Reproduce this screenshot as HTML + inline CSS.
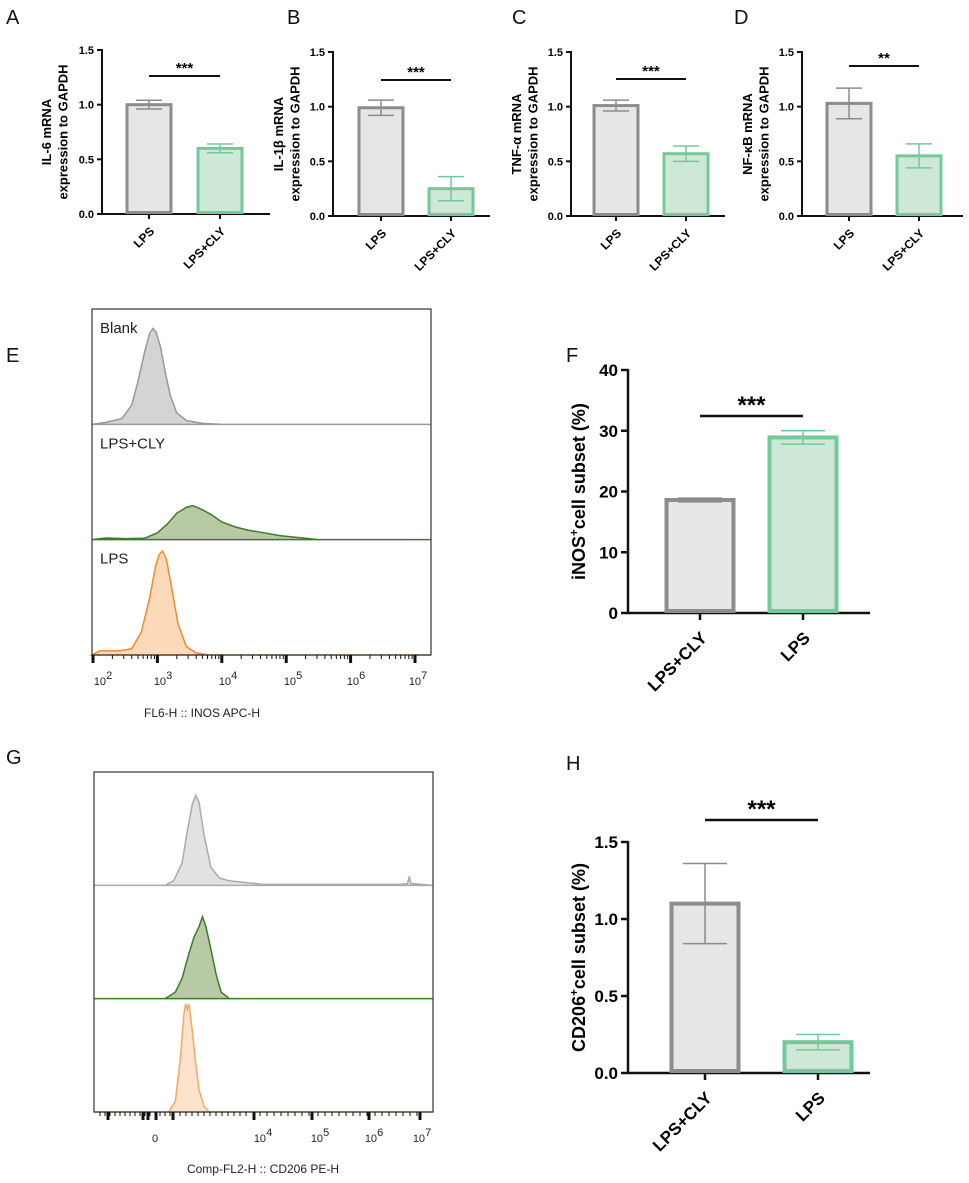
<!DOCTYPE html>
<html><head><meta charset="utf-8"><style>
body{margin:0;background:#fff}
svg{display:block;font-family:"Liberation Sans",Arial,sans-serif}
</style></head><body>
<svg id="fig" width="969" height="1183" viewBox="0 0 969 1183" xmlns="http://www.w3.org/2000/svg">
<g font-size="20" fill="#111">
<text x="6" y="24">A</text>
<text x="287" y="24">B</text>
<text x="512" y="24">C</text>
<text x="734" y="24">D</text>
<text x="6" y="362">E</text>
<text x="566" y="362">F</text>
<text x="6" y="764">G</text>
<text x="566" y="770">H</text>
</g>
</svg>
<script>
// ---- bar chart data ----
const groupsTop = ["LPS", "LPS+CLY"];
const groupsBottom = ["LPS+CLY", "LPS"];
const aMeans = [1.00, 0.60], aErr = [0.04, 0.04];
const bMeans = [0.99, 0.25], bErr = [0.07, 0.11];
const cMeans = [1.01, 0.57], cErr = [0.05, 0.07];
const dMeans = [1.03, 0.55], dErr = [0.14, 0.11];
const fMeans = [18.6, 28.9], fErr = [0.3, 1.1];
const hMeans = [1.10, 0.20], hErr = [0.26, 0.05];
const smallTicks = ["0.0", "0.5", "1.0", "1.5"];
const fTicks = ["0", "10", "20", "30", "40"];
const hTicks = ["0.0", "0.5", "1.0", "1.5"];
// ---- histogram data (log10 value, relative count) ----
const eBlankX = [1.7, 2.2, 2.45, 2.6, 2.7, 2.8, 2.88, 2.93, 2.98, 3.05, 3.12, 3.2, 3.3, 3.45, 3.7, 4.0, 7.2];
const eBlankY = [0, 2, 6, 20, 45, 75, 95, 100, 96, 80, 55, 30, 12, 4, 1, 0, 0];
const eClyX = [1.7, 2.2, 2.5, 2.8, 3.0, 3.15, 3.3, 3.45, 3.55, 3.7, 3.85, 4.0, 4.2, 4.4, 4.6, 4.9, 5.2, 5.5, 7.2];
const eClyY = [0, 5, 3, 4, 20, 45, 78, 95, 100, 88, 72, 52, 38, 28, 22, 12, 6, 0, 0];
const eLpsX = [1.7, 2.1, 2.4, 2.6, 2.75, 2.88, 2.97, 3.03, 3.08, 3.14, 3.22, 3.32, 3.45, 3.6, 3.8, 7.2];
const eLpsY = [0, 4, 4, 6, 22, 55, 85, 97, 100, 92, 65, 30, 8, 2, 0, 0];
// G: channel position (0 = left edge, 1 = right edge)
const gBlankX = [0, 0.21, 0.235, 0.26, 0.275, 0.29, 0.3, 0.31, 0.325, 0.345, 0.37, 0.4, 0.45, 0.5, 0.9, 0.925, 0.93, 0.935, 1];
const gBlankY = [0, 0, 5, 25, 60, 90, 100, 92, 55, 20, 8, 5, 3, 1, 1, 2, 10, 2, 0];
const gClyX = [0, 0.21, 0.24, 0.26, 0.28, 0.295, 0.31, 0.32, 0.33, 0.345, 0.36, 0.375, 0.4, 1];
const gClyY = [0, 0, 8, 25, 55, 75, 88, 100, 88, 60, 30, 8, 0, 0];
const gLpsX = [0, 0.22, 0.24, 0.255, 0.265, 0.27, 0.275, 0.28, 0.29, 0.3, 0.31, 0.325, 0.34, 1];
const gLpsY = [0, 0, 10, 50, 90, 100, 95, 100, 75, 45, 20, 5, 0, 0];

const NS = "http://www.w3.org/2000/svg";
const svg = document.getElementById("fig");
function el(tag, attrs, parent, txt) {
  const e = document.createElementNS(NS, tag);
  for (const k in attrs) e.setAttribute(k, attrs[k]);
  if (txt !== undefined) e.textContent = txt;
  (parent || svg).appendChild(e);
  return e;
}
const GRAY = ["#8c8c8c", "#e6e6e6"], GREEN = ["#74c99a", "#cde8d7"];

function barChart(o) {
  const g = el("g", {});
  
  
  const y = v => o.y0 - (v / o.ymax) * (o.y0 - o.y1);
  const ax = el("line", {x1: o.ax, y1: o.y1 - 1, x2: o.ax, y2: o.y0 + 1, stroke: "#111", "stroke-width": o.aw}, g);
  
  
  const xa = el("line", {x1: o.ax - o.aw / 2, y1: o.y0, x2: o.axEnd, y2: o.y0, stroke: "#111", "stroke-width": o.aw}, g);
  
  
  o.ticks.forEach((t, i) => {
    const v = i * o.ymax / (o.ticks.length - 1);
    el("line", {x1: o.ax - o.tl, y1: y(v), x2: o.ax, y2: y(v), stroke: "#111", "stroke-width": o.aw}, g);
    const tt = el("text", {x: o.ax - o.tl - 3, y: y(v) + o.fs * 0.36, "text-anchor": "end", "font-size": o.fs, "font-weight": "bold"}, g, t);
    
    
  });
  o.means.forEach((m, i) => {
    const c = o.colors[i], cx = o.cx[i];
    const r = el("rect", {x: cx - o.bw / 2, y: y(m), width: o.bw, height: o.y0 - y(m) - o.sw / 2, fill: c[1], stroke: c[0], "stroke-width": o.sw}, g);
    
    
    const e1 = y(m + o.err[i]), e0 = y(m - o.err[i]);
    const eb = el("path", {d: `M${cx},${e0}V${e1}M${cx - o.cap},${e1}H${cx + o.cap}M${cx - o.cap},${e0}H${cx + o.cap}`, stroke: c[0], "stroke-width": o.ew, fill: "none"}, g);
    
    
    el("line", {x1: cx, y1: o.y0, x2: cx, y2: o.y0 + o.tl, stroke: "#111", "stroke-width": o.aw}, g);
    const lx = cx + o.lo, ly = o.y0 + o.tl + o.fs + 2;
    const lt = el("text", {x: lx, y: ly, "text-anchor": "end", "font-size": o.lfs, "font-weight": "bold", transform: `rotate(-45 ${lx} ${ly})`}, g, o.groups[i]);
    
    
  });
  const sl = el("line", {x1: o.cx[0], y1: o.sigY, x2: o.cx[1], y2: o.sigY, stroke: "#111", "stroke-width": o.aw}, g);
  
  
  const st = el("text", {x: (o.cx[0] + o.cx[1]) / 2, y: o.sigY - 3, "text-anchor": "middle", "font-size": o.sfs, "font-weight": "bold"}, g, o.sig);
  
  
  const ty = (o.y0 + o.y1) / 2;
  o.title.forEach((ln, k) => {
    const tx = o.titleX + k * o.tfs * 1.25;
    const tg = el("text", {x: tx, y: ty, "text-anchor": "middle", "font-size": o.tfs, "font-weight": "bold", transform: `rotate(-90 ${tx} ${ty})`}, g);
    
    
    if (typeof ln === "object") {
      el("tspan", {}, tg, ln.a);
      el("tspan", {dy: -o.tfs * 0.4, "font-size": o.tfs * 0.65}, tg, "+");
      el("tspan", {dy: o.tfs * 0.4}, tg, ln.b);
    } else tg.textContent = ln;
  });
}
const small = {ymax: 1.5, ticks: smallTicks, aw: 2, tl: 5, fs: 11, lfs: 12, sfs: 15, tfs: 13, bw: 44, sw: 3, ew: 1.5, cap: 13, lo: 6, colors: [GRAY, GREEN], groups: groupsTop};
barChart(Object.assign({}, small, {name: "chart-il6", ax: 102, axEnd: 270, y0: 214, y1: 50, cx: [149, 220], means: aMeans, err: aErr, sigY: 76, sig: "***", titleX: 51, title: ["IL-6 mRNA", "expression to GAPDH"]}));
barChart(Object.assign({}, small, {name: "chart-il1b", ax: 333, axEnd: 490, y0: 216, y1: 52, cx: [381, 451], means: bMeans, err: bErr, sigY: 80, sig: "***", titleX: 283, title: ["IL-1β mRNA", "expression to GAPDH"]}));
barChart(Object.assign({}, small, {name: "chart-tnfa", ax: 571, axEnd: 725, y0: 216, y1: 52, cx: [616, 686], means: cMeans, err: cErr, sigY: 79, sig: "***", titleX: 521, title: ["TNF-α mRNA", "expression to GAPDH"]}));
barChart(Object.assign({}, small, {name: "chart-nfkb", ax: 802, axEnd: 963, y0: 216, y1: 52, cx: [849, 919], means: dMeans, err: dErr, sigY: 66, sig: "**", titleX: 752, title: ["NF-κB mRNA", "expression to GAPDH"]}));
const big = {aw: 2.5, tl: 7, fs: 17, lfs: 17, sfs: 24, tfs: 18, bw: 67, sw: 4, ew: 1.5, cap: 22, lo: 8, colors: [GRAY, GREEN], groups: groupsBottom};
barChart(Object.assign({}, big, {name: "chart-inos", ymax: 40, ticks: fTicks, ax: 628, axEnd: 870, y0: 613, y1: 370, cx: [700, 803], means: fMeans, err: fErr, sigY: 416, sig: "***", titleX: 585, title: [{a: "iNOS", b: "cell  subset (%)"}]}));
barChart(Object.assign({}, big, {name: "chart-cd206", ymax: 1.5, ticks: hTicks, ax: 628, axEnd: 870, y0: 1073, y1: 842, cx: [705, 818], means: hMeans, err: hErr, sigY: 820, sig: "***", titleX: 585, title: [{a: "CD206", b: "cell  subset (%)"}]}));

// ---- flow histograms ----
function histPanel(o) {
  const g = el("g", {});
  
  
  const sec = (o.y1 - o.y0) / 3;
  o.series.forEach((s, i) => {
    const base = o.y0 + sec * (i + 1);
    let d = `M${o.x0},${base}`;
    s.xs.forEach((v, k) => { d += `L${Math.min(o.x1, Math.max(o.x0, o.sx(v)))},${base - s.ys[k] / 100 * s.h}`; });
    d += `L${o.x1},${base}Z`;
    const p = el("path", {d: d, fill: s.fill, stroke: s.stroke, "stroke-width": 1.5}, g);
    
    
    if (s.label) {
      const t = el("text", {x: o.x0 + 8, y: o.y0 + sec * i + 24, "font-size": 15, fill: "#222"}, g, s.label);
      
      
    }
  });
  const fr = el("rect", {x: o.x0, y: o.y0, width: o.x1 - o.x0, height: o.y1 - o.y0, fill: "none", stroke: "#333", "stroke-width": 1.2}, g);
  
  
  o.majors.forEach(px => el("rect", {x: px - 1.5, y: o.y1, width: 3, height: 8, fill: "#111"}, g));
  o.minors.forEach(px => el("line", {x1: px, y1: o.y1, x2: px, y2: o.y1 + 4, stroke: "#111", "stroke-width": 1}, g));
  o.labels.forEach(l => {
    const t = el("text", {x: l.x, y: o.y1 + 30, "font-size": 11, "text-anchor": "middle", fill: "#222"}, g);
    
    
    if (l.e) { el("tspan", {}, t, "10"); el("tspan", {dy: -6, "font-size": 11}, t, l.e); } else t.textContent = l.t;
  });
  const xt = el("text", {x: o.titleX, y: o.titleY, "font-size": 12, "text-anchor": "middle", fill: "#222"}, g, o.title);
  
  
}
const eScale = v => 93 + (v - 2) * 64.4;
const eMin = [];
for (let dcd = 1; dcd <= 6; dcd++) for (let m = 2; m <= 9; m++) { const px = eScale(dcd + Math.log10(m)); if (px > 92 && px < 430) eMin.push(px); }
histPanel({name: "flow-inos", x0: 92, x1: 431, y0: 309, y1: 655, sx: eScale,
  series: [
    {key: "blank", label: "Blank", xs: eBlankX, ys: eBlankY, h: 96, fill: "#d4d4d4", stroke: "#999"},
    {key: "lps-cly", label: "LPS+CLY", xs: eClyX, ys: eClyY, h: 34, fill: "#b8c9a6", stroke: "#3f7a2a"},
    {key: "lps", label: "LPS", xs: eLpsX, ys: eLpsY, h: 104, fill: "#fcd9b8", stroke: "#f08a2c"}],
  majors: [2, 3, 4, 5, 6, 7].map(eScale), minors: eMin,
  labels: [{x: 103, e: "2"}, {x: 163, e: "3"}, {x: 228, e: "4"}, {x: 293, e: "5"}, {x: 356, e: "6"}, {x: 418, e: "7"}],
  title: "FL6-H :: INOS APC-H", titleX: 202, titleY: 717});
const gScale = v => 94 + v * 339;
const gMaj = [108, 143, 148, 156, 173, 254, 312, 369, 420];
const gMin = [];
[[100, 175, 5], [180, 250, 6], [260, 310, 7], [318, 368, 7], [375, 418, 7]].forEach(r => { for (let p = r[0]; p < r[1]; p += r[2]) gMin.push(p); });
histPanel({name: "flow-cd206", x0: 94, x1: 433, y0: 772, y1: 1112, sx: gScale,
  series: [
    {key: "blank", xs: gBlankX, ys: gBlankY, h: 90, fill: "#e2e2e2", stroke: "#aaa"},
    {key: "lps-cly", xs: gClyX, ys: gClyY, h: 82, fill: "#b8c9a6", stroke: "#3f7a2a"},
    {key: "lps", xs: gLpsX, ys: gLpsY, h: 108, fill: "#fde3cb", stroke: "#f5a763"}],
  majors: gMaj, minors: gMin,
  labels: [{x: 155, t: "0"}, {x: 263, e: "4"}, {x: 320, e: "5"}, {x: 374, e: "6"}, {x: 422, e: "7"}],
  title: "Comp-FL2-H :: CD206 PE-H", titleX: 263, titleY: 1173});
</script>
</body></html>
